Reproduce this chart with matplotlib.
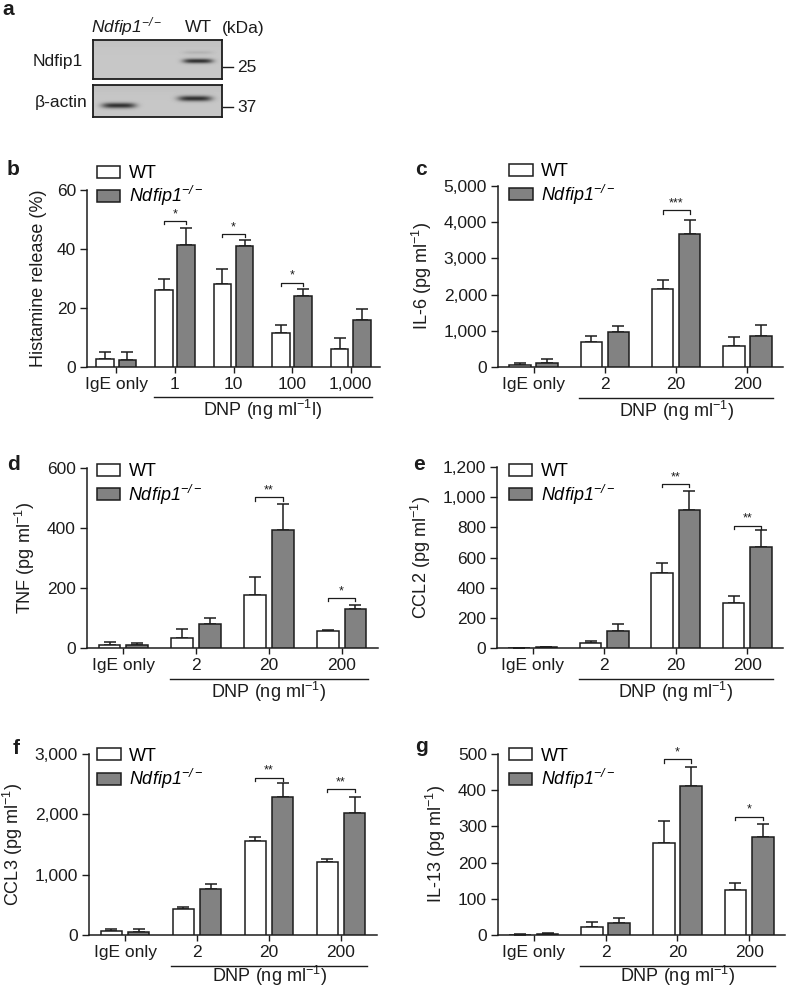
import matplotlib
matplotlib.use('Agg')
import matplotlib.pyplot as plt
import matplotlib.transforms as mtransforms
from matplotlib.ticker import FuncFormatter
import numpy as np

plt.rcParams['font.family'] = ['Liberation Sans', 'DejaVu Sans']
plt.rcParams['mathtext.fontset'] = 'custom'
plt.rcParams['mathtext.rm'] = 'Liberation Sans'
plt.rcParams['mathtext.it'] = 'Liberation Sans:italic'
plt.rcParams['mathtext.sf'] = 'Liberation Sans:italic'
plt.rcParams['mathtext.bf'] = 'Liberation Sans:bold'

# ---------------- data ----------------
KO_LABEL = r'$\mathsf{Ndfip1}^{\mathsf{-/-}}$'
blot_lanes = [KO_LABEL, 'WT']
blot_ndfip1 = [0.0, 1.0]      # relative band intensity
blot_actin = [1.0, 1.0]
blot_markers = ['25', '37']

b_cats = ['IgE only', '1', '10', '100', '1,000']
b_wt = [2.6, 26.0, 28.0, 11.5, 6.2]
b_wt_err = [2.5, 4.0, 5.2, 2.9, 3.5]
b_ko = [2.4, 41.2, 41.0, 24.0, 16.0]
b_ko_err = [2.7, 6.0, 2.0, 2.3, 3.5]
b_sig_groups = [1, 2, 3]
b_sig_labels = ['*', '*', '*']
b_sig_y = [49.5, 45.0, 28.6]

dose_cats = ['IgE only', '2', '20', '200']

c_wt = [60, 690, 2164, 571]
c_wt_err = [50, 157, 248, 258]
c_ko = [120, 967, 3683, 847]
c_ko_err = [90, 156, 387, 323]
c_sig_groups = [2]
c_sig_labels = ['***']
c_sig_y = [4328]

d_wt = [11, 33, 177, 58]
d_wt_err = [8, 29, 61, 3]
d_ko = [10, 81, 393, 130]
d_ko_err = [7, 18, 87, 13]
d_sig_groups = [2, 3]
d_sig_labels = ['**', '*']
d_sig_y = [502, 166]

e_wt = [0, 33, 497, 298]
e_wt_err = [0, 11, 67, 45]
e_ko = [5, 115, 913, 670]
e_ko_err = [3, 46, 130, 110]
e_sig_groups = [2, 3]
e_sig_labels = ['**', '**']
e_sig_y = [1087, 811]

f_wt = [61, 425, 1564, 1204]
f_wt_err = [38, 34, 60, 61]
f_ko = [55, 757, 2293, 2028]
f_ko_err = [39, 88, 221, 259]
f_sig_groups = [2, 3]
f_sig_labels = ['**', '**']
f_sig_y = [2608, 2420]

g_wt = [1, 23, 255, 124]
g_wt_err = [0.5, 14, 61, 21]
g_ko = [3, 34, 412, 270]
g_ko_err = [2, 12, 53, 36]
g_sig_groups = [2, 3]
g_sig_labels = ['*', '*']
g_sig_y = [485, 327]

# ---------------- layout helpers ----------------
W, H = 788, 989
fig = plt.figure(figsize=(W / 100, H / 100), dpi=100)
INK = '#1c1c1c'
GREY = '#828282'


def px_axes(l, t, r, b):
    return fig.add_axes([l / W, 1 - b / H, (r - l) / W, (b - t) / H])


def fx(px):
    return px / W


def fy(py):
    return 1 - py / H


def panel(ax, cats, wt, wt_err, ko, ko_err, sig_g, sig_l, sig_y, ymax, ystep,
          ylabel, dnp_label, leg_anchor, text_y=-0.245):
    n = len(cats)
    x = np.arange(n)
    off, bw = 0.19, 0.30
    ax.bar(x - off, wt, bw, color='white', edgecolor=INK, lw=1.1, label='WT', zorder=3)
    ax.bar(x + off, ko, bw, color=GREY, edgecolor=INK, lw=1.1, label=KO_LABEL, zorder=3)
    ax.errorbar(x - off, wt, yerr=[np.zeros(n), wt_err], fmt='none', ecolor=INK,
                elinewidth=1.1, capsize=4, capthick=1.1, zorder=2)
    ax.errorbar(x + off, ko, yerr=[np.zeros(n), ko_err], fmt='none', ecolor=INK,
                elinewidth=1.1, capsize=4, capthick=1.1, zorder=2)
    d = ymax * 0.018
    for g, lab, yy in zip(sig_g, sig_l, sig_y):
        xa, xb = g - off, g + off
        ax.plot([xa, xa, xb, xb], [yy - d, yy, yy, yy - d], color=INK, lw=0.9,
                clip_on=False, zorder=4)
        ax.text((xa + xb) / 2, yy + ymax * 0.005, lab, ha='center', va='bottom',
                fontsize=9, color=INK)
    ax.set_xlim(-0.5, n - 0.5)
    ax.set_ylim(0, ymax)
    ax.set_yticks(np.arange(0, ymax + ystep / 2, ystep))
    ax.yaxis.set_major_formatter(FuncFormatter(lambda v, p: f'{v:,.0f}'))
    ax.set_xticks(x)
    ax.set_xticklabels(cats)
    ax.tick_params(axis='both', labelsize=12.5, colors=INK, width=1.0, direction='out')
    ax.tick_params(axis='y', length=5, pad=3)
    ax.tick_params(axis='x', length=4, pad=3)
    for s in ['top', 'right']:
        ax.spines[s].set_visible(False)
    for s in ['left', 'bottom']:
        ax.spines[s].set_linewidth(1.1)
        ax.spines[s].set_color(INK)
    ax.set_ylabel(ylabel, fontsize=13, color=INK, labelpad=7)
    trans = mtransforms.blended_transform_factory(ax.transData, ax.transAxes)
    ax.plot([1 - 0.36, n - 1 + 0.36], [-0.17, -0.17], transform=trans, color=INK,
            lw=1.0, clip_on=False)
    ax.text((1 + n - 1) / 2, text_y, dnp_label, transform=trans, ha='center',
            va='center', fontsize=13, color=INK)
    ax.legend(loc='upper left', bbox_to_anchor=leg_anchor, frameon=False,
              handlelength=1.3, handleheight=0.65, handletextpad=0.45,
              labelspacing=0.12, fontsize=13, borderaxespad=0, borderpad=0)


dnp = r'DNP (ng ml$^{-1}$)'
unit = r' (pg ml$^{-1}$)'

ax_b = px_axes(87, 190, 380, 367)
panel(ax_b, b_cats, b_wt, b_wt_err, b_ko, b_ko_err, b_sig_groups, b_sig_labels,
      b_sig_y, 60, 20, 'Histamine release (%)', r'DNP (ng ml$^{-1}$l)', (0.034, 1.14))

ax_c = px_axes(498, 186, 783, 367)
panel(ax_c, dose_cats, c_wt, c_wt_err, c_ko, c_ko_err, c_sig_groups, c_sig_labels,
      c_sig_y, 5000, 1000, 'IL-6' + unit, dnp, (0.039, 1.125))

ax_d = px_axes(87, 468, 378, 648)
panel(ax_d, dose_cats, d_wt, d_wt_err, d_ko, d_ko_err, d_sig_groups, d_sig_labels,
      d_sig_y, 600, 200, 'TNF' + unit, dnp, (0.034, 1.025))

ax_e = px_axes(497, 467, 783, 648)
panel(ax_e, dose_cats, e_wt, e_wt_err, e_ko, e_ko_err, e_sig_groups, e_sig_labels,
      e_sig_y, 1200, 200, 'CCL2' + unit, dnp, (0.042, 1.02))

ax_f = px_axes(89, 754, 377, 935)
panel(ax_f, dose_cats, f_wt, f_wt_err, f_ko, f_ko_err, f_sig_groups, f_sig_labels,
      f_sig_y, 3000, 1000, 'CCL3' + unit, dnp, (0.028, 1.035), text_y=-0.225)

ax_g = px_axes(498, 754, 785, 935)
panel(ax_g, dose_cats, g_wt, g_wt_err, g_ko, g_ko_err, g_sig_groups, g_sig_labels,
      g_sig_y, 500, 100, 'IL-13' + unit, dnp, (0.038, 1.035), text_y=-0.225)

# ---------------- panel a : western blot ----------------
def blot(ax, w, h, lanes_cx, lanes_cy, intens, wx, wy, extra=None):
    yy, xx = np.mgrid[0:h, 0:w]
    img = np.full((h, w), 0.78) - 0.03 * np.exp(-yy / 6.0)
    for cx, cy, it in zip(lanes_cx, lanes_cy, intens):
        img -= 0.58 * it * np.exp(-((xx - cx) / wx) ** 4) * np.exp(-((yy - cy) / wy) ** 2)
    if extra is not None:
        for cx, cy, it in extra:
            img -= it * np.exp(-((xx - cx) / wx) ** 4) * np.exp(-((yy - cy) / (wy * 0.8)) ** 2)
    ax.imshow(img, cmap='gray', vmin=0, vmax=1, aspect='auto', interpolation='bilinear')
    ax.set_xticks([])
    ax.set_yticks([])
    for s in ax.spines.values():
        s.set_linewidth(1.3)
        s.set_color(INK)


ax_a1 = px_axes(93, 40, 222, 79)
blot(ax_a1, 129, 39, [25, 104.5], [20.5, 20.5], blot_ndfip1, 15, 2.4,
     extra=[(104.5, 12.0, 0.07 * blot_ndfip1[1])])
ax_a2 = px_axes(93, 85, 222, 117)
blot(ax_a2, 129, 32, [25.5, 101.5], [20.0, 13.0], blot_actin, 17, 2.8)

fig.text(fx(127), fy(27), blot_lanes[0], ha='center', va='center', fontsize=12.5, color=INK)
fig.text(fx(198), fy(28), blot_lanes[1], ha='center', va='center', fontsize=12.5, color=INK)
fig.text(fx(222), fy(28), '(kDa)', ha='left', va='center', fontsize=12.5, color=INK)
fig.text(fx(83), fy(62), 'Ndfip1', ha='right', va='center', fontsize=12.5, color=INK)
fig.text(fx(88), fy(102), '\u03b2-actin', ha='right', va='center', fontsize=12.5, color=INK)
for yy, m in zip([67, 107], blot_markers):
    fig.add_artist(plt.Line2D([fx(223), fx(233)], [fy(yy), fy(yy)], color=INK, lw=1.0))
    fig.text(fx(237), fy(yy), m, ha='left', va='center', fontsize=12.5, color=INK)

# ---------------- panel letters ----------------
for lab, x0, yb in [('a', 2, 15), ('b', 7, 175), ('c', 415, 175), ('d', 7, 470),
                    ('e', 413, 470), ('f', 13, 754), ('g', 415, 752)]:
    fig.text(fx(x0), fy(yb), lab, ha='left', va='baseline', fontsize=15,
             fontweight='bold', color=INK)

fig.savefig('out.png', dpi=100)
